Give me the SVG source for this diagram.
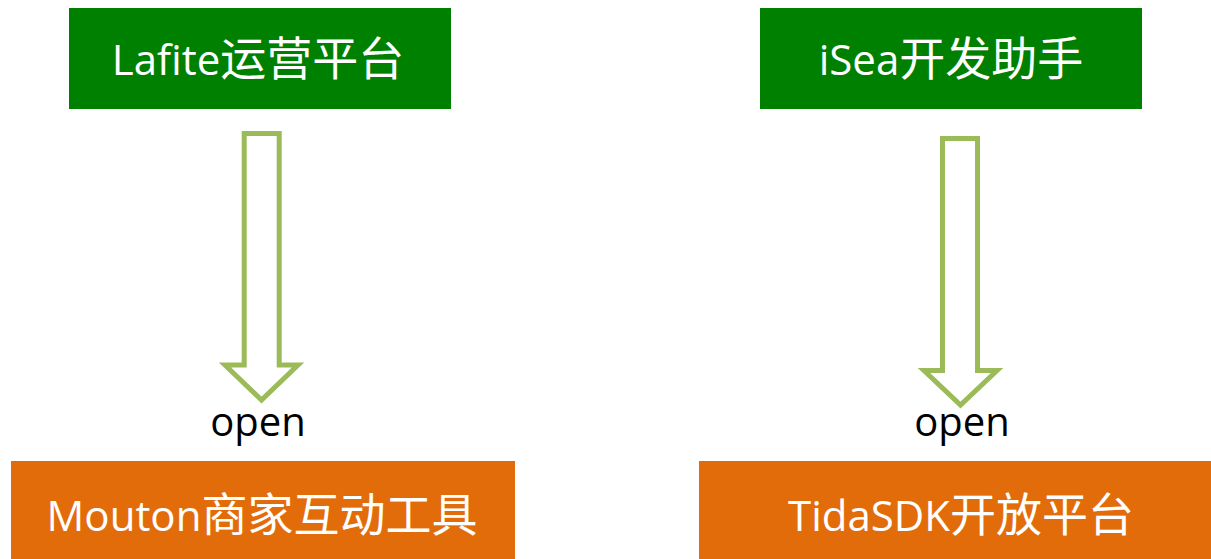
<svg xmlns="http://www.w3.org/2000/svg" width="1211" height="559" viewBox="0 0 1211 559">
<style>
.green{fill:#008000}
.orange{fill:#E36C0A}
.lbl{fill:#ffffff;text-anchor:middle}
.lat{font-family:"Open Sans","Liberation Sans",sans-serif;font-size:42px}
.cjk{font-family:"Noto Sans CJK SC","Noto Sans CJK TC",sans-serif;font-size:46px}
.arrow{fill:#ffffff;stroke:#9BBB59;stroke-width:5;stroke-linejoin:miter}
.open{font-family:"Open Sans","Liberation Sans",sans-serif;font-size:40px;fill:#000000;text-anchor:middle}
</style>
<rect width="1211" height="559" fill="#ffffff"/>
<g id="lafite">
<rect class="green" x="69" y="8" width="382" height="101"/>
<text class="lbl" x="258" y="75"><tspan class="lat">Lafite</tspan><tspan class="cjk">运营平台</tspan></text>
</g>
<g id="isea">
<rect class="green" x="760" y="8" width="382" height="101"/>
<text class="lbl" x="951" y="75"><tspan class="lat">iSea</tspan><tspan class="cjk">开发助手</tspan></text>
</g>
<g id="mouton">
<rect class="orange" x="11" y="461" width="504" height="98"/>
<text class="lbl" x="262" y="531"><tspan class="lat">Mouton</tspan><tspan class="cjk">商家互动工具</tspan></text>
</g>
<g id="tidasdk">
<rect class="orange" x="699" y="461" width="512" height="98"/>
<text class="lbl" x="961" y="531"><tspan class="lat">TidaSDK</tspan><tspan class="cjk">开放平台</tspan></text>
</g>
<g id="connectors">
<polygon class="arrow" points="244.2,133.5 279.2,133.5 279.2,365 298,365 261.5,400 225,365 244.2,365"/>
<text class="open" x="258" y="436">open</text>
<polygon class="arrow" points="942.5,138.5 977.5,138.5 977.5,370.5 997,370.5 960.5,405 924,370.5 942.5,370.5"/>
<text class="open" x="962" y="436">open</text>
</g>
</svg>
